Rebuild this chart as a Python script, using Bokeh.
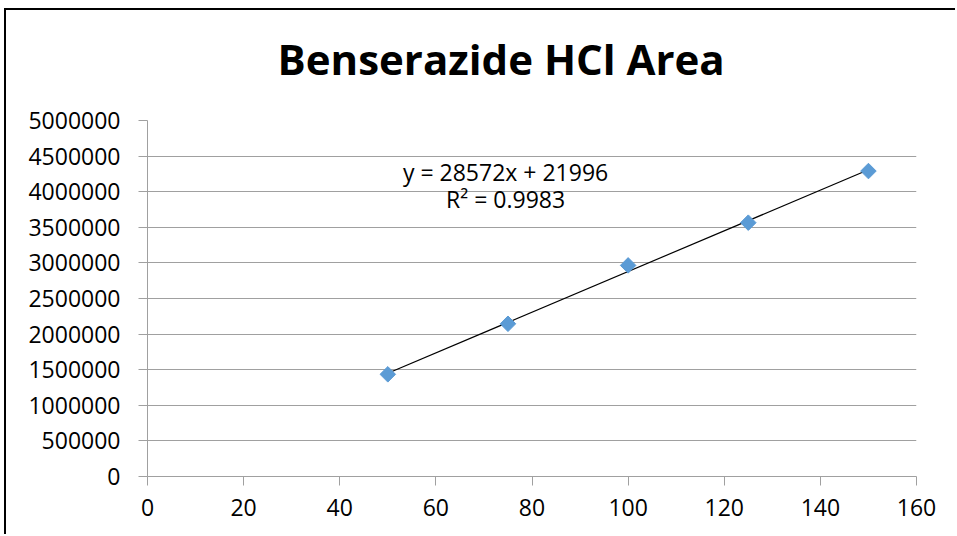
from bokeh.plotting import figure
from bokeh.models import Label, Range1d, FixedTicker, BasicTickFormatter, Title
from bokeh.embed import file_html
from bokeh.resources import INLINE

# data
conc = [50, 75, 100, 125, 150]
area = [1435000, 2145000, 2965000, 3565000, 4290000]
slope = 28572
intercept = 21996
r2 = 0.9983
x_ticks = [0, 20, 40, 60, 80, 100, 120, 140, 160]
y_ticks = [0, 500000, 1000000, 1500000, 2000000, 2500000, 3000000, 3500000, 4000000, 4500000, 5000000]
title_text = "Benserazide HCl Area"

FONT = "Open Sans"
GRID = "#a0a0a0"

p = figure(width=951, height=526, output_backend="svg", toolbar_location=None,
           x_range=Range1d(0, 160), y_range=Range1d(0, 5000000),
           min_border_left=141, min_border_top=110, min_border_right=41, min_border_bottom=60)
p.styles = {"margin-left": "4px", "margin-top": "8px",
            "border-left": "2px solid black", "border-top": "2px solid black"}
p.outline_line_color = None
p.background_fill_color = "white"
p.border_fill_color = "white"

# spacer between title and plot frame
p.add_layout(Title(text=" ", text_font_size="10px", standoff=21, text_color="white"), "above")
p.title = Title(text=title_text, align="left", text_font=FONT, text_font_style="bold",
                text_font_size="42px", text_color="black", standoff=0, offset=130)

p.xgrid.grid_line_color = None
p.ygrid.grid_line_color = GRID
p.ygrid.grid_line_width = 1

for ax in (p.xaxis[0], p.yaxis[0]):
    ax.axis_line_color = GRID
    ax.major_tick_line_color = GRID
    ax.minor_tick_line_color = None
    ax.major_tick_in = 0
    ax.major_tick_out = 9
    ax.major_label_text_font = FONT
    ax.major_label_text_font_size = "23px"
    ax.major_label_text_color = "black"
p.xaxis.major_label_standoff = 13
p.yaxis.major_label_standoff = 18

p.xaxis.ticker = FixedTicker(ticks=x_ticks)
p.yaxis.ticker = FixedTicker(ticks=y_ticks)
p.yaxis.formatter = BasicTickFormatter(use_scientific=False)

# trendline
x0, x1 = conc[0], conc[-1]
p.line([x0, x1], [slope * x0 + intercept, slope * x1 + intercept], line_color="black", line_width=1.2)

# points
p.scatter(conc, area, marker="square", angle=0.785398, size=11,
          fill_color="#5b9bd5", line_color="#5b9bd5")

# trendline label
p.add_layout(Label(x=74.5, y=4280000, text=f"y = {slope}x + {intercept}", text_align="center",
                   text_baseline="middle", text_font=FONT, text_font_size="23px", text_color="black"))
p.add_layout(Label(x=74.5, y=3900000, text=f"R² = {r2}", text_align="center",
                   text_baseline="middle", text_font=FONT, text_font_size="23px", text_color="black"))

open("out.html", "w").write(file_html(p, INLINE))
